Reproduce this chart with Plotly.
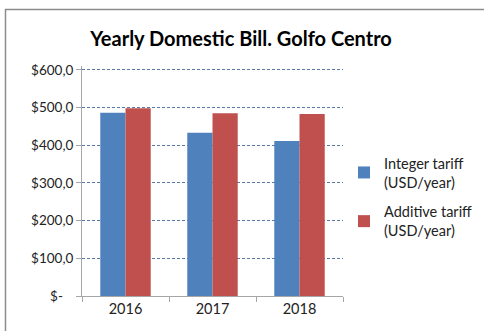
import plotly.graph_objects as go

years = ["2016", "2017", "2018"]
integer_tariff = [486, 433, 411]
additive_tariff = [498, 485, 483]
y_tick_values = [0, 100, 200, 300, 400, 500, 600]
y_tick_labels = ["$-   ", "$100,0", "$200,0", "$300,0", "$400,0", "$500,0", "$600,0"]

FONT = "Lato"
W, H = 484, 331
L, R, T, B = 82, 141, 66, 35
pw = W - L - R
ph = H - T - B

fig = go.Figure()
fig.add_trace(go.Bar(x=years, y=integer_tariff, name="Integer tariff<br>(USD/year)",
                     legendgroup="a",
                     marker=dict(color="#4F81BD", line=dict(width=0))))
fig.add_trace(go.Bar(x=years, y=additive_tariff, name="Additive tariff<br>(USD/year)",
                     legendgroup="b",
                     marker=dict(color="#C0504D", line=dict(width=0))))


def px_x(p):
    return (p - L) / pw


def px_y(p):
    return 1 - (p - T) / ph


# outer chart frame (top and left edges)
fig.add_shape(type="line", xref="paper", yref="paper",
              x0=px_x(5), x1=px_x(500), y0=px_y(9.5), y1=px_y(9.5),
              line=dict(color="#8C8C8C", width=1.5))
fig.add_shape(type="line", xref="paper", yref="paper",
              x0=px_x(5.5), x1=px_x(5.5), y0=px_y(9), y1=px_y(340),
              line=dict(color="#8C8C8C", width=1.5))

fig.update_layout(
    width=W, height=H,
    margin=dict(l=L, r=R, t=T, b=B, autoexpand=False),
    paper_bgcolor="white", plot_bgcolor="white",
    barmode="group", bargap=0.42, bargroupgap=0,
    font=dict(family=FONT, size=13, color="#222222"),
    title=dict(text="<b>Yearly Domestic Bill. Golfo Centro</b>",
               x=241 / W, xanchor="center",
               y=1 - 39 / H, yanchor="middle",
               font=dict(family=FONT, size=20, color="#000000")),
    legend=dict(x=px_x(344), y=0.43, xanchor="left", yanchor="middle",
                font=dict(family=FONT, size=14.5, color="#222222"),
                bgcolor="rgba(0,0,0,0)", borderwidth=0, itemwidth=30,
                tracegroupgap=8),
    xaxis=dict(type="category", showline=True, linecolor="#A6A6A6", linewidth=1,
               ticks="outside", tickson="boundaries", ticklen=5, tickcolor="#A6A6A6",
               showgrid=False, tickfont=dict(size=14.5, color="#222222")),
    yaxis=dict(range=[0, 610], tickvals=y_tick_values, ticktext=y_tick_labels,
               showline=True, linecolor="#A6A6A6", linewidth=1,
               ticks="outside", ticklen=5, tickcolor="#A6A6A6",
               showgrid=True, gridcolor="#5A78AA", griddash="3px,2px", gridwidth=1,
               zeroline=False, tickfont=dict(size=13.5, color="#222222")),
)

fig.write_html("out.html")
